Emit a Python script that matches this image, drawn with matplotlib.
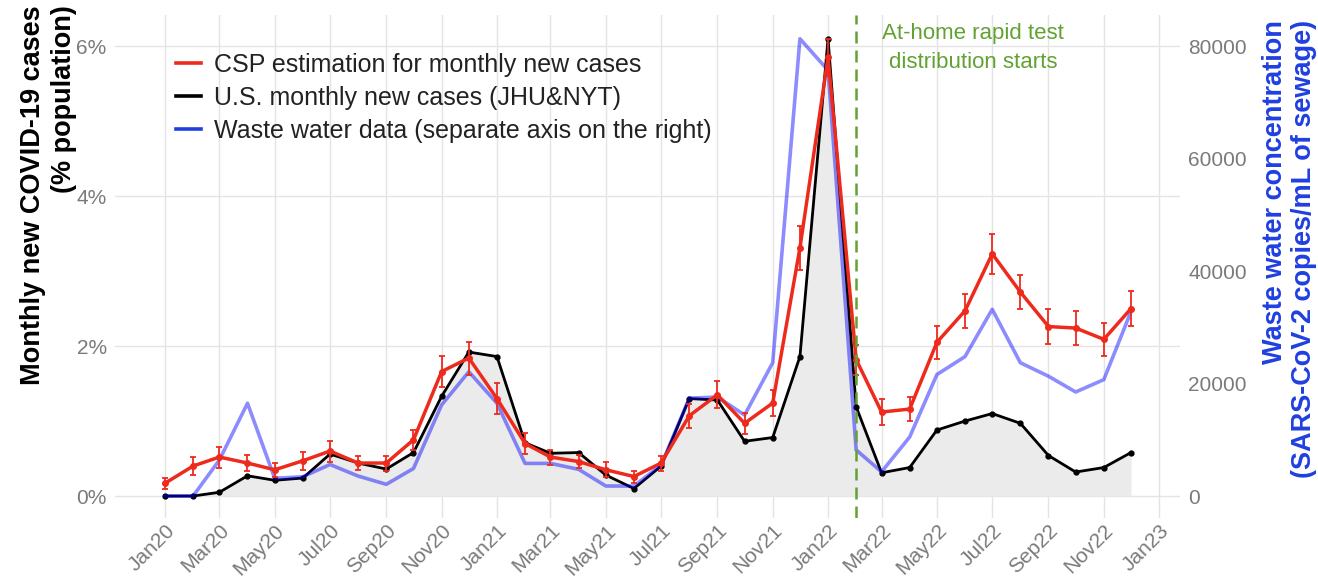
import numpy as np
import pandas as pd
import matplotlib
matplotlib.use("Agg")
import matplotlib.pyplot as plt
import matplotlib.dates as mdates
from matplotlib.lines import Line2D

plt.rcParams['font.family'] = ['Liberation Sans', 'DejaVu Sans']

# monthly data, Jan 2020 .. Dec 2022
months = pd.date_range("2020-01-01", "2022-12-01", freq="MS")

# U.S. monthly new cases (JHU & NYT), % of population
us_cases = [0.00, 0.00, 0.05, 0.27, 0.21, 0.24, 0.56, 0.44, 0.36, 0.58, 1.33, 1.92,
            1.86, 0.71, 0.57, 0.58, 0.28, 0.10, 0.40, 1.30, 1.28, 0.73, 0.78, 1.86,
            6.10, 1.19, 0.31, 0.38, 0.88, 1.00, 1.10, 0.97, 0.54, 0.32, 0.38, 0.58]

# CSP estimation, % of population, with error
csp = [0.17, 0.40, 0.52, 0.44, 0.35, 0.47, 0.60, 0.44, 0.44, 0.75, 1.66, 1.84,
       1.30, 0.70, 0.52, 0.46, 0.35, 0.26, 0.44, 1.07, 1.35, 0.97, 1.24, 3.31,
       5.85, 1.82, 1.12, 1.16, 2.05, 2.47, 3.23, 2.72, 2.26, 2.24, 2.09, 2.50]
csp_err = [0.07, 0.12, 0.14, 0.11, 0.09, 0.12, 0.14, 0.09, 0.10, 0.13, 0.21, 0.22,
           0.21, 0.14, 0.10, 0.09, 0.10, 0.08, 0.10, 0.16, 0.18, 0.14, 0.17, 0.29,
           0.25, 0.20, 0.17, 0.16, 0.22, 0.23, 0.27, 0.23, 0.23, 0.23, 0.22, 0.23]

# waste water concentration, copies/mL of sewage (right axis)
waste = [0, 0, 6400, 16500, 3150, 3430, 5600, 3550, 2080, 4900, 16200, 22100,
         16500, 5800, 5800, 4750, 1780, 1780, 5500, 17400, 17600, 14400, 23700, 81300,
         75700, 8200, 4300, 10500, 21600, 24800, 33200, 23700, 21300, 18500, 20700, 32800]

test_start = pd.Timestamp("2022-02-01")

red = "#EE2A1C"
blue = "#1F3FE0"
green = "#62A233"
grey_txt = "#7A7A7A"

fig = plt.figure(figsize=(13.18, 5.78), dpi=100)
ax = fig.add_axes([0.0873, 0.1038, 0.808, 0.870])
ax2 = ax.twinx()

# left axis: 6% lines up with 80000 on the right
ylo, yhi = -0.293, 6.413
k = 80000 / 6.0
ax.set_ylim(ylo, yhi)
ax2.set_ylim(ylo * k, yhi * k)
ax.set_xlim(pd.Timestamp("2020-01-01") - pd.Timedelta(days=55),
            pd.Timestamp("2023-01-01") + pd.Timedelta(days=23))

ax.fill_between(months, 0, us_cases, color="#EBEBEB", lw=0, zorder=1)
ax.plot(months, us_cases, color="black", lw=2.0, marker="o", ms=3.5, zorder=3)
# waste water drawn on the right-axis scale but kept under the red series
ax.plot(months, waste, color="#0000FF", alpha=0.45, lw=2.6, transform=ax2.transData, zorder=4)
ax.errorbar(months, csp, yerr=csp_err, color=red, lw=2.5, marker="o", ms=4,
            elinewidth=1.3, capsize=2.5, capthick=1.3, zorder=5)

ax.axvline(test_start, color=green, lw=1.8, dashes=(4.8, 2.8), zorder=6)
ax.text(pd.Timestamp("2022-06-10"), 5.97, "At-home rapid test\ndistribution starts",
        ha="center", va="center", color=green, fontsize=16, linespacing=1.5)

# axes styling
ax.grid(color="#E4E4E4", lw=1.0)
ax.set_axisbelow(True)
for a in (ax, ax2):
    for s in a.spines.values():
        s.set_visible(False)
    a.tick_params(length=0, labelcolor=grey_txt, labelsize=15)
ax.tick_params(axis="y", pad=6)
ax2.tick_params(axis="y", pad=6)

ax.set_yticks([0, 2, 4, 6])
ax.set_yticklabels(["0%", "2%", "4%", "6%"])
ax2.set_yticks([0, 20000, 40000, 60000, 80000])
ax2.set_yticklabels(["0", "20000", "40000", "60000", "80000"])

ax.xaxis.set_major_locator(mdates.MonthLocator(bymonth=[1, 3, 5, 7, 9, 11]))
ax.xaxis.set_major_formatter(mdates.DateFormatter("%b%y"))
ax.tick_params(axis="x", pad=2)
plt.setp(ax.get_xticklabels(), rotation=45, ha="right", rotation_mode="anchor")

fig.text(0.037, 0.991, "Monthly new COVID-19 cases\n(% population)", rotation=90,
         ha="center", va="top", multialignment="right", fontsize=19.5,
         fontweight="bold", linespacing=1.25)
fig.text(0.978, 0.965, "Waste water concentration\n(SARS-CoV-2 copies/mL of sewage)",
         rotation=90, ha="center", va="top", multialignment="right", fontsize=19.5,
         fontweight="bold", color=blue, linespacing=1.15)

handles = [Line2D([], [], color=red, lw=2.6),
           Line2D([], [], color="black", lw=2.6),
           Line2D([], [], color=blue, lw=2.6)]
labels = ["CSP estimation for monthly new cases",
          "U.S. monthly new cases (JHU&NYT)",
          "Waste water data (separate axis on the right)"]
ax.legend(handles, labels, loc="upper left", bbox_to_anchor=(176 / 1318, 1 - 53 / 578),
          bbox_transform=fig.transFigure, frameon=False, fontsize=18,
          handlelength=1.0, handletextpad=0.5, labelspacing=0.36,
          borderpad=0, borderaxespad=0, labelcolor="#222222")

fig.savefig("out.png", dpi=100)
